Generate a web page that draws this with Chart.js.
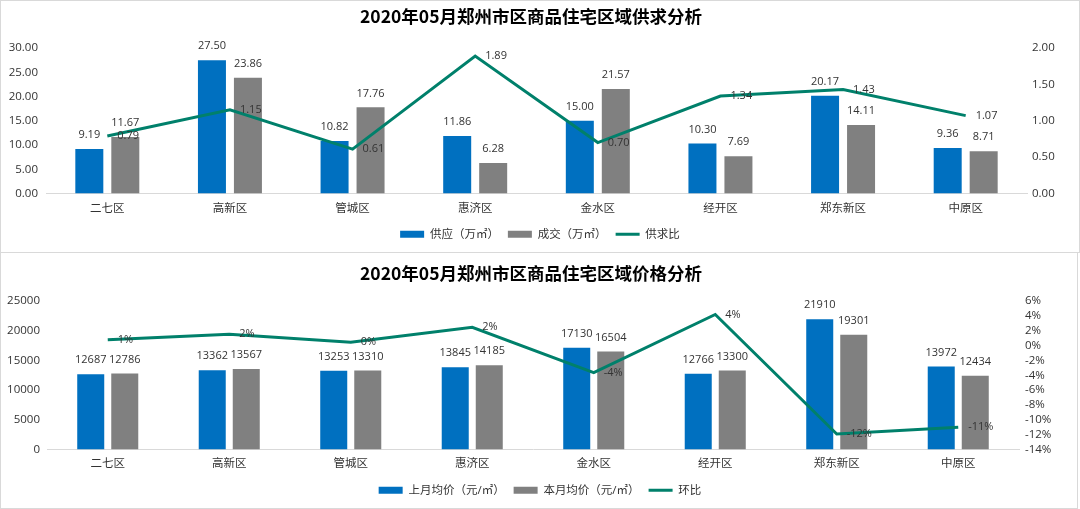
<!DOCTYPE html>
<html>
<head>
<meta charset="utf-8">
<script src="https://cdn.jsdelivr.net/npm/chart.js@4.4.1/dist/chart.umd.min.js"></script>
<style>
  body { margin: 0; background: #fff; width: 1080px; height: 509px; position: relative; overflow: hidden; }
  canvas { position: absolute; left: 0; }
  .frame { position: absolute; left: 0; box-sizing: border-box; border: 1px solid #d9d9d9; pointer-events: none; }
</style>
</head>
<body>
<canvas id="supplyChart" width="1080" height="252" style="top:0"></canvas>
<canvas id="priceChart" width="1080" height="257" style="top:252px"></canvas>
<div class="frame" style="top:0;width:1080px;height:253px"></div>
<div class="frame" style="top:252px;width:1078px;height:257px"></div>
<script>
// 区域
const districts = ["二七区", "高新区", "管城区", "惠济区", "金水区", "经开区", "郑东新区", "中原区"];

// 供求（万㎡）
const supply = [9.19, 27.50, 10.82, 11.86, 15.00, 10.30, 20.17, 9.36];
const deals = [11.67, 23.86, 17.76, 6.28, 21.57, 7.69, 14.11, 8.71];
const supplyRatio = [0.79, 1.15, 0.61, 1.89, 0.70, 1.34, 1.43, 1.07];

// 价格（元/㎡）与环比（%）
const lastMonthPrice = [12687, 13362, 13253, 13845, 17130, 12766, 21910, 13972];
const thisMonthPrice = [12786, 13567, 13310, 14185, 16504, 13300, 19301, 12434];
const monthOnMonth = [0.78, 1.53, 0.43, 2.46, -3.65, 4.18, -11.91, -11.01];

// 坐标轴刻度 [min, max, step]
const areaTicks = [0, 30, 5];
const ratioTicks = [0, 2, 0.5];
const priceTicks = [0, 25000, 5000];
const momTicks = [-14, 6, 2];

const BLUE = "#0070C0";
const GRAY = "#808080";
const TEAL = "#00806B";
const TEXT = "#333333";

Chart.defaults.font.family = '"Open Sans", "Noto Sans CJK SC", sans-serif';
Chart.defaults.font.size = 11.5;
Chart.defaults.color = TEXT;

// 标题（自己画，位置略偏左）
const chartTitle = {
  id: "chartTitle",
  afterDraw(chart, args, opts) {
    const c = chart.ctx;
    c.save();
    c.font = 'bold 17.5px "Noto Sans CJK SC", sans-serif';
    c.fillStyle = "#000";
    c.textAlign = "center";
    c.textBaseline = "middle";
    c.fillText(opts.text, opts.x, opts.y);
    c.restore();
  }
};

// 数据标签
const valueLabels = {
  id: "valueLabels",
  afterDatasetsDraw(chart) {
    const c = chart.ctx;
    c.save();
    c.font = '11px "Open Sans", "Noto Sans CJK SC", sans-serif';
    c.fillStyle = TEXT;
    chart.data.datasets.forEach((ds, i) => {
      const meta = chart.getDatasetMeta(i);
      meta.data.forEach((el, j) => {
        const text = ds.fmt(ds.data[j]);
        if (meta.type === "bar") {
          c.textAlign = "center";
          c.textBaseline = "middle";
          c.fillText(text, el.x, el.y - 14);
        } else {
          c.textAlign = "left";
          c.textBaseline = "middle";
          c.fillText(text, el.x + 10, el.y);
        }
      });
    });
    c.restore();
  }
};

function legendOpts() {
  return {
    position: "bottom",
    labels: {
      usePointStyle: true,
      pointStyleWidth: 24,
      boxHeight: 7,
      padding: 9,
      color: TEXT,
      sort: (a, b) => a.datasetIndex - b.datasetIndex,
      generateLabels(chart) {
        return Chart.defaults.plugins.legend.labels.generateLabels(chart).map(item => {
          const ds = chart.data.datasets[item.datasetIndex];
          const isLine = ds.type === "line";
          item.pointStyle = isLine ? "line" : "rect";
          item.lineWidth = isLine ? 3 : 0;
          item.strokeStyle = isLine ? ds.borderColor : ds.backgroundColor;
          item.fillStyle = isLine ? ds.borderColor : ds.backgroundColor;
          return item;
        });
      }
    }
  };
}

function buildChart(id, cfg) {
  return new Chart(document.getElementById(id), {
    type: "bar",
    data: {
      labels: districts,
      datasets: [
        {
          label: cfg.names[0], data: cfg.bars[0], backgroundColor: BLUE, order: 1,
          categoryPercentage: cfg.catPct, barPercentage: cfg.barPct, yAxisID: "y", fmt: cfg.barFmt
        },
        {
          label: cfg.names[1], data: cfg.bars[1], backgroundColor: GRAY, order: 1,
          categoryPercentage: cfg.catPct, barPercentage: cfg.barPct, yAxisID: "y", fmt: cfg.barFmt
        },
        {
          type: "line", label: cfg.names[2], data: cfg.line, borderColor: TEAL, backgroundColor: TEAL,
          borderWidth: 3, pointRadius: 0, tension: 0, order: 0, yAxisID: "y1", fmt: cfg.lineFmt
        }
      ]
    },
    options: {
      responsive: false,
      animation: false,
      devicePixelRatio: 1,
      layout: { padding: { top: cfg.top, bottom: cfg.bottom, left: 0, right: 0 } },
      scales: {
        x: {
          grid: { display: false, drawTicks: false },
          border: { color: "#d9d9d9", width: 1 },
          ticks: { padding: cfg.xPad, color: TEXT, autoSkip: false, maxRotation: 0 },
          afterFit: s => { s.height = cfg.xHeight; }
        },
        y: {
          position: "left",
          min: cfg.leftTicks[0], max: cfg.leftTicks[1],
          grid: { display: false, drawTicks: false },
          border: { display: false },
          ticks: { stepSize: cfg.leftTicks[2], autoSkip: false, padding: cfg.leftPad, color: TEXT, callback: cfg.leftFmt },
          afterFit: s => { s.width = cfg.leftWidth; }
        },
        y1: {
          position: "right",
          min: cfg.rightTicks[0], max: cfg.rightTicks[1],
          grid: { display: false, drawTicks: false },
          border: { display: false },
          ticks: { stepSize: cfg.rightTicks[2], autoSkip: false, padding: cfg.rightPad, color: TEXT, callback: cfg.rightFmt },
          afterFit: s => { s.width = cfg.rightWidth; }
        }
      },
      plugins: {
        legend: legendOpts(),
        tooltip: { enabled: false },
        chartTitle: { text: cfg.title, x: 531, y: cfg.titleY }
      }
    },
    plugins: [chartTitle, valueLabels]
  });
}

// 供求图
buildChart("supplyChart", {
  title: "2020年05月郑州市区商品住宅区域供求分析", titleY: 16,
  names: ["供应（万㎡）", "成交（万㎡）", "供求比"],
  bars: [supply, deals], line: supplyRatio,
  barFmt: v => v.toFixed(2), lineFmt: v => v.toFixed(2),
  leftTicks: areaTicks, rightTicks: ratioTicks,
  leftFmt: v => v.toFixed(2), rightFmt: v => v.toFixed(2),
  catPct: 0.587, barPct: 0.778,
  top: 48, bottom: 2, xHeight: 26, xPad: 8,
  leftWidth: 46, leftPad: 8, rightWidth: 53, rightPad: 5
});

// 价格图
buildChart("priceChart", {
  title: "2020年05月郑州市区商品住宅区域价格分析", titleY: 21,
  names: ["上月均价（元/㎡）", "本月均价（元/㎡）", "环比"],
  bars: [lastMonthPrice, thisMonthPrice], line: monthOnMonth,
  barFmt: v => String(v), lineFmt: v => Math.round(v) + "%",
  leftTicks: priceTicks, rightTicks: momTicks,
  leftFmt: v => String(v), rightFmt: v => v + "%",
  catPct: 0.56, barPct: 0.794,
  top: 49, bottom: 3, xHeight: 26, xPad: 7,
  leftWidth: 47, leftPad: 7, rightWidth: 61, rightPad: 6
});
</script>
</body>
</html>
